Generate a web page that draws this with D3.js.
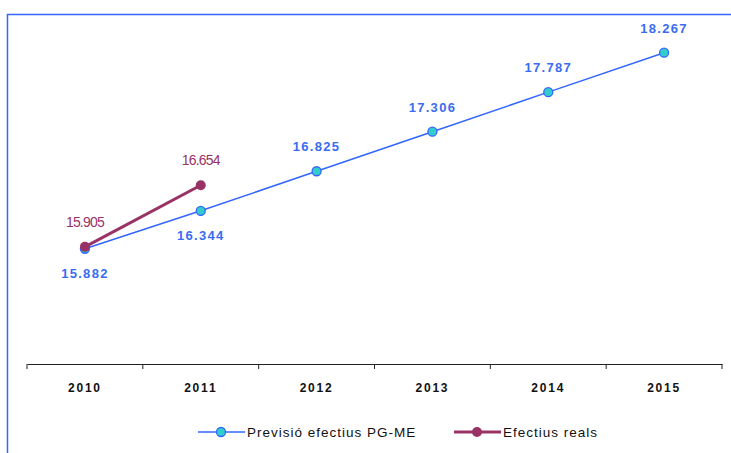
<!DOCTYPE html>
<html>
<head>
<meta charset="utf-8">
<script src="https://cdn.jsdelivr.net/npm/d3@7"></script>
<style>
  body { margin: 0; background: #fff; }
  svg { display: block; font-family: "Liberation Sans", Arial, sans-serif; }
</style>
</head>
<body>
<div id="chart"></div>
<script>
const years = ["2010", "2011", "2012", "2013", "2014", "2015"];
const previsio = [15.882, 16.344, 16.825, 17.306, 17.787, 18.267];
const realYears = ["2010", "2011"];
const reals = [15.905, 16.654];
const seriesNames = ["Previsió efectius PG-ME", "Efectius reals"];

const W = 731, H = 453;
const blue = "#3366ff", cyan = "#33cccc", wine = "#993366";

const svg = d3.select("#chart").append("svg")
  .attr("width", W).attr("height", H);

// outer frame
svg.append("rect")
  .attr("x", 7.5).attr("y", 14.5)
  .attr("width", W).attr("height", H)
  .attr("fill", "none").attr("stroke", blue).attr("stroke-width", 1.5);

const x = d3.scaleBand().domain(years).range([27, 722]);
const y = d3.scaleLinear().domain([14.48, 19]).range([364, 364 - 4.52 * 82.2]);
const cx = (d) => x(d) + x.bandwidth() / 2;
const fmt = (v) => v.toFixed(3);

// x axis
const xAxis = svg.append("g")
  .attr("transform", "translate(0,364)")
  .call(d3.axisBottom(x).tickSize(0).tickFormat(""));
xAxis.select(".domain").attr("stroke", "#222");
const bounds = years.map((d) => x(d)).concat([x.range()[1]]);
svg.selectAll(".tk").data(bounds).join("line")
  .attr("class", "tk")
  .attr("x1", (d) => d).attr("x2", (d) => d)
  .attr("y1", 364).attr("y2", 369)
  .attr("stroke", "#222");
svg.selectAll(".xl").data(years).join("text")
  .attr("class", "xl")
  .attr("x", cx).attr("y", 392)
  .attr("text-anchor", "middle")
  .attr("font-size", 12).attr("font-weight", "bold")
  .attr("letter-spacing", 1.8)
  .attr("fill", "#111")
  .text((d) => d);

// forecast line
const prevData = years.map((d, i) => ({ year: d, v: previsio[i] }));
svg.append("path")
  .datum(prevData)
  .attr("fill", "none").attr("stroke", blue).attr("stroke-width", 1.5)
  .attr("d", d3.line().x((d) => cx(d.year)).y((d) => y(d.v)));

// real line
const realData = realYears.map((d, i) => ({ year: d, v: reals[i] }));
svg.append("path")
  .datum(realData)
  .attr("fill", "none").attr("stroke", wine).attr("stroke-width", 3)
  .attr("d", d3.line().x((d) => cx(d.year)).y((d) => y(d.v)));

svg.selectAll(".pm").data(prevData).join("circle")
  .attr("class", "pm")
  .attr("cx", (d) => cx(d.year)).attr("cy", (d) => y(d.v))
  .attr("r", 4.5)
  .attr("fill", cyan).attr("stroke", blue).attr("stroke-width", 1.3);

svg.selectAll(".rm").data(realData).join("circle")
  .attr("class", "rm")
  .attr("cx", (d) => cx(d.year)).attr("cy", (d) => y(d.v))
  .attr("r", 5)
  .attr("fill", wine);

// labels
svg.selectAll(".pl").data(prevData).join("text")
  .attr("class", "pl")
  .attr("x", (d) => cx(d.year))
  .attr("y", (d, i) => y(d.v) + (i < 2 ? 29 : -20))
  .attr("text-anchor", "middle")
  .attr("font-size", 13).attr("font-weight", "bold")
  .attr("letter-spacing", 1.3)
  .attr("fill", "#3a6cf2")
  .text((d) => fmt(d.v));

svg.selectAll(".rl").data(realData).join("text")
  .attr("class", "rl")
  .attr("x", (d) => cx(d.year))
  .attr("y", (d) => y(d.v) - 20)
  .attr("text-anchor", "middle")
  .attr("font-size", 14)
  .attr("letter-spacing", -0.8)
  .attr("fill", wine)
  .text((d) => fmt(d.v));

// legend
const legend = svg.append("g").attr("transform", "translate(0,432)");
const items = [
  { name: seriesNames[0], x0: 198, w: 1.5, color: blue, fill: cyan, r: 4.5 },
  { name: seriesNames[1], x0: 454, w: 3, color: wine, fill: wine, r: 5 }
];
items.forEach((it) => {
  legend.append("line")
    .attr("x1", it.x0).attr("x2", it.x0 + 47)
    .attr("stroke", it.color).attr("stroke-width", it.w);
  legend.append("circle")
    .attr("cx", it.x0 + 23).attr("r", it.r)
    .attr("fill", it.fill)
    .attr("stroke", it.fill === cyan ? blue : "none").attr("stroke-width", 1.3);
  legend.append("text")
    .attr("x", it.x0 + 49).attr("y", 5)
    .attr("font-size", 13.5).attr("letter-spacing", 1)
    .attr("fill", "#111")
    .text(it.name);
});
</script>
</body>
</html>
